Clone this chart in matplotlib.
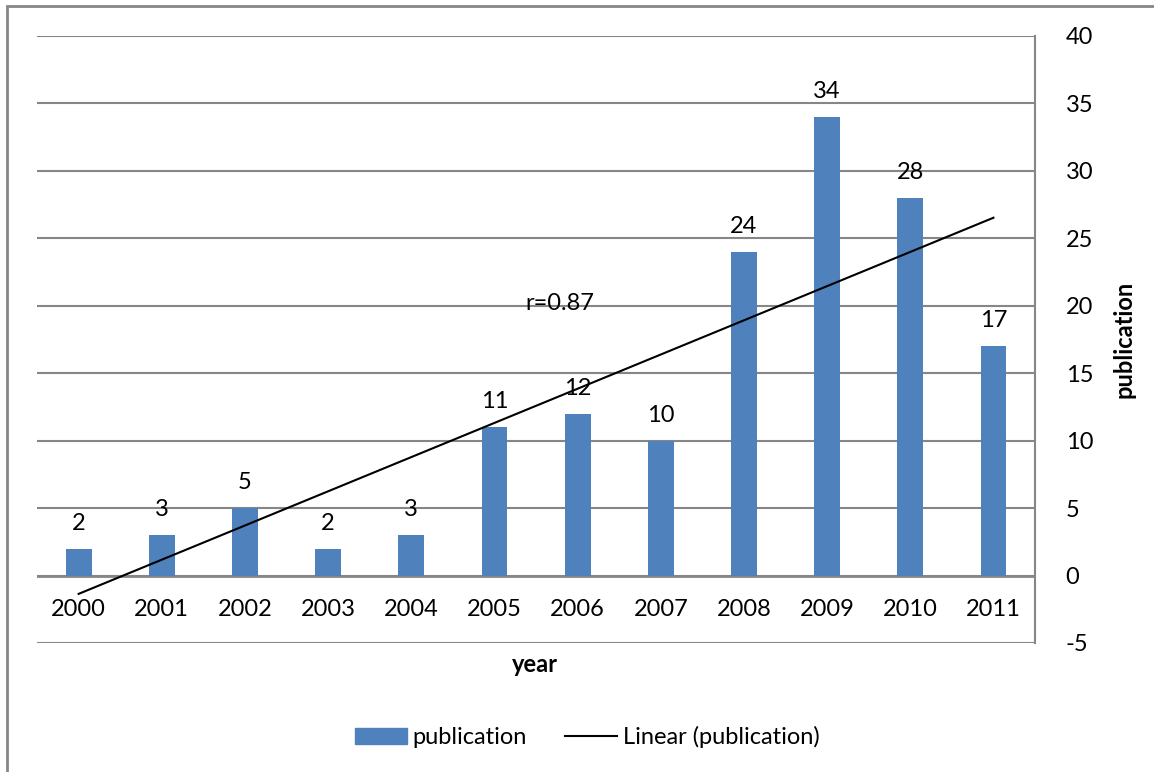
import matplotlib.pyplot as plt
import matplotlib.patches as mpatches
from matplotlib.lines import Line2D
import numpy as np

years = ['2000', '2001', '2002', '2003', '2004', '2005',
         '2006', '2007', '2008', '2009', '2010', '2011']
publication = [2, 3, 5, 2, 3, 11, 12, 10, 24, 34, 28, 17]
r_label = 'r=0.87'
y_ticks = [-5, 0, 5, 10, 15, 20, 25, 30, 35, 40]

plt.rcParams['font.family'] = ['Lato', 'DejaVu Sans']
plt.rcParams['axes.unicode_minus'] = False
fs = 17

fig = plt.figure(figsize=(11.54, 7.72), dpi=100)
ax = fig.add_axes([0.0321, 0.1671, 0.8648, 0.7863])

x = np.arange(len(years))
bar_col = '#4F81BD'
ax.bar(x, publication, width=0.31, color=bar_col, zorder=3)

# data labels
for xi, v in zip(x, publication):
    ax.text(xi, v + 1.1, str(v), ha='center', va='bottom', fontsize=fs)

# linear trend
slope, icpt = np.polyfit(x + 1, publication, 1)
ax.plot(x, slope * (x + 1) + icpt, color='black', lw=1.5, zorder=4)
ax.text(5.79, 20.2, r_label, ha='center', va='center', fontsize=fs)

ax.set_xlim(-0.5, 11.5)
ax.set_ylim(-5, 40)
ax.set_yticks(y_ticks)
ax.yaxis.tick_right()
ax.tick_params(axis='y', length=0, labelsize=fs, pad=22)
ax.set_xticks([])
for lab in ax.get_yticklabels():
    lab.set_horizontalalignment('left')
ax.yaxis.grid(True, color='#868686', lw=1.5, zorder=0)
ax.set_axisbelow(True)
for s in ['top', 'left', 'bottom']:
    ax.spines[s].set_visible(False)
ax.spines['right'].set_color('#868686')
ax.spines['right'].set_linewidth(1.5)
ax.axhline(0, color='#868686', lw=2, zorder=2)

# category labels between 0 and -5
for xi, yr in zip(x, years):
    ax.text(xi, -2.5, yr, ha='center', va='center', fontsize=fs)

ax.set_ylabel('publication', fontsize=fs, fontweight='bold', labelpad=14)
ax.yaxis.set_label_position('right')
fig.text(535 / 1154, 1 - 665 / 772, 'year', ha='center', va='center',
         fontsize=fs, fontweight='bold')

handles = [mpatches.Patch(color=bar_col),
           Line2D([0], [0], color='black', lw=1.5)]
fig.legend(handles, ['publication', 'Linear (publication)'],
           loc='center', bbox_to_anchor=(587 / 1154, 1 - 737 / 772),
           ncol=2, frameon=False, fontsize=fs, handlelength=2.2,
           handleheight=0.7, handletextpad=0.25, columnspacing=1.6)

fig.patches.append(mpatches.Rectangle((7 / 1154, -0.05), 1, 1.05 - 6 / 772,
                                      transform=fig.transFigure, fill=False,
                                      edgecolor='#868686', lw=2))

fig.savefig('out.png', dpi=100)
